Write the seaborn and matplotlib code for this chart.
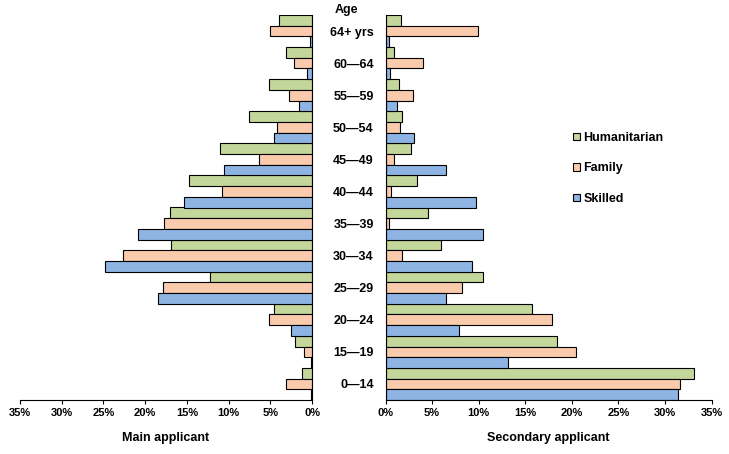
import seaborn as sns
import matplotlib.pyplot as plt
import pandas as pd
from matplotlib.patches import Patch

# age groups, top of chart first
ages = ["64+ yrs", "60\u201464", "55\u201459", "50\u201454", "45\u201449", "40\u201444",
        "35\u201439", "30\u201434", "25\u201429", "20\u201424", "15\u201419", "0\u201414"]
streams = ["Humanitarian", "Family", "Skilled"]

# main applicant (%)
main_hum = [3.9, 3.1, 5.1, 7.6, 11.0, 14.7, 17.0, 16.9, 12.2, 4.5, 2.0, 1.2]
main_fam = [5.0, 2.1, 2.8, 4.2, 6.4, 10.8, 17.7, 22.7, 17.9, 5.1, 1.0, 3.1]
main_skl = [0.25, 0.55, 1.5, 4.5, 10.5, 15.4, 20.9, 24.8, 18.4, 2.5, 0.1, 0.1]

# secondary applicant (%)
sec_hum = [1.7, 0.9, 1.4, 1.8, 2.7, 3.4, 4.6, 6.0, 10.5, 15.7, 18.4, 33.1]
sec_fam = [9.9, 4.0, 2.9, 1.6, 0.9, 0.6, 0.4, 1.8, 8.2, 17.9, 20.4, 31.6]
sec_skl = [0.4, 0.5, 1.2, 3.1, 6.5, 9.7, 10.5, 9.3, 6.5, 7.9, 13.1, 31.4]

colors = ["#C4D79B", "#F9CBAC", "#8DB4E2"]


def long_df(h, f, s):
    return pd.DataFrame({
        "age": ages * 3,
        "stream": [streams[0]] * 12 + [streams[1]] * 12 + [streams[2]] * 12,
        "pct": h + f + s,
    })


df_main = long_df(main_hum, main_fam, main_skl)
df_sec = long_df(sec_hum, sec_fam, sec_skl)

sns.set_style("white")
plt.rcParams["font.family"] = ["Liberation Sans", "DejaVu Sans"]
plt.rcParams["font.weight"] = "bold"
plt.rcParams["text.color"] = "black"
plt.rcParams["axes.labelcolor"] = "black"
plt.rcParams["xtick.color"] = "black"
plt.rcParams["ytick.color"] = "black"

W, H = 729, 454
fig = plt.figure(figsize=(W / 100, H / 100), dpi=100)
ax1 = fig.add_axes([20 / W, 54 / H, 292 / W, 385 / H])
ax2 = fig.add_axes([385.5 / W, 54 / H, 326 / W, 385 / H])

for ax, d in [(ax1, df_main), (ax2, df_sec)]:
    sns.barplot(data=d, y="age", x="pct", hue="stream", order=ages,
                hue_order=streams, palette=colors, width=1.0, orient="h",
                edgecolor="black", linewidth=0.8, saturation=1,
                legend=False, ax=ax)
    ax.set_ylim(11.5, -0.5)
    ax.set_xticks(range(0, 36, 5))
    ax.set_xticklabels([f"{v}%" for v in range(0, 36, 5)])
    ax.tick_params(axis="x", bottom=True, length=3, width=0.8, color="black",
                   labelsize=8, pad=3)
    ax.set_ylabel("")
    for sp in ax.spines.values():
        sp.set_color("black")
        sp.set_linewidth(0.8)
    ax.spines["top"].set_visible(False)

ax1.set_xlim(35, 0)
ax1.spines["left"].set_visible(False)
ax1.set_yticks([])
ax1.set_xlabel("Main applicant", fontsize=9, fontweight="bold", labelpad=10)

ax2.set_xlim(0, 35)
ax2.spines["right"].set_visible(False)
ax2.set_yticks(range(len(ages)))
ax2.set_yticklabels(ages)
ax2.tick_params(axis="y", left=False, labelsize=9, pad=5)
ax2.set_xlabel("Secondary applicant", fontsize=9, fontweight="bold", labelpad=10)

fig.text(346 / W, 1 - 10 / H, "Age", ha="center", va="center",
         fontsize=9, fontweight="bold")

handles = [Patch(facecolor=c, edgecolor="black", linewidth=0.8) for c in colors]
fig.legend(handles, streams, loc="upper left",
           bbox_to_anchor=(562 / W, 1 - 121 / H), frameon=False,
           handlelength=0.5, handleheight=0.5, handletextpad=0.3,
           labelspacing=1.45, prop={"size": 9, "weight": "bold"})

fig.savefig("out.png", dpi=100)
